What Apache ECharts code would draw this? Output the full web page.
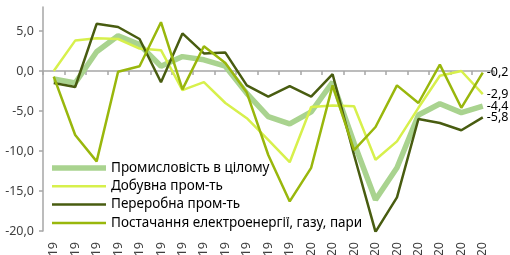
<!DOCTYPE html>
<html lang="uk">
<head>
<meta charset="UTF-8" />
<title>Промисловість</title>
<script src="https://cdn.jsdelivr.net/npm/echarts@6/dist/echarts.min.js"></script>
<style>
  html, body { margin: 0; padding: 0; background: #fff; }
  #chart { width: 510px; height: 255px; }
</style>
</head>
<body>
<div id="chart"></div>
<script>
// місяці: січ.2019 - вер.2020
var months = [
  "січ.19", "лют.19", "бер.19", "кві.19", "тра.19", "чер.19",
  "лип.19", "сер.19", "вер.19", "жов.19", "лис.19", "гру.19",
  "січ.20", "лют.20", "бер.20", "кві.20", "тра.20", "чер.20",
  "лип.20", "сер.20", "вер.20"
];
var names = [
  "Промисловість в цілому",
  "Добувна пром-ть",
  "Переробна пром-ть",
  "Постачання електроенергії, газу, пари"
];
var total    = [-1.0, -1.5, 2.4, 4.4, 3.3, 0.6, 1.8, 1.4, 0.6, -2.8, -5.7, -6.6, -5.1, -1.4, -9.0, -16.1, -12.1, -5.5, -4.1, -5.2, -4.4];
var mining   = [0.0, 3.8, 4.1, 4.0, 2.8, 2.6, -2.4, -1.4, -4.0, -5.9, -8.6, -11.4, -4.5, -4.3, -4.4, -11.1, -8.8, -4.6, -0.6, 0.0, -2.9];
var manuf    = [-1.5, -2.0, 5.9, 5.5, 4.0, -1.4, 4.7, 2.2, 2.3, -1.8, -3.2, -1.9, -3.2, -0.4, -10.5, -20.1, -15.8, -6.0, -6.5, -7.4, -5.8];
var energy   = [-0.7, -8.0, -11.3, -0.1, 0.6, 6.1, -2.3, 3.1, 1.0, -2.7, -10.5, -16.3, -12.1, -1.8, -9.9, -7.0, -1.8, -4.0, 0.8, -4.6, -0.2];
var yMin = -20, yMax = 8, yStep = 5;

var colors = ["#a9d38f", "#d7f04c", "#485c10", "#99b70c"];
var widths = [5.5, 2.5, 2.5, 2.5];
var data = [total, mining, manuf, energy];

function fmt(v) { return v.toFixed(1).replace(".", ","); }

var myChart = echarts.init(document.getElementById("chart"));
var font = "Noto Sans";

var series = names.map(function (n, i) {
  return {
    name: n,
    type: "line",
    data: data[i],
    xAxisIndex: 0,
    symbol: "none",
    lineStyle: { color: colors[i], width: widths[i] },
    itemStyle: { color: colors[i] },
    endLabel: {
      show: true,
      formatter: function (p) { return fmt(p.value); },
      color: "#000",
      fontSize: 12.5,
      fontFamily: font,
      distance: 4
    }
  };
});

// legend: plain line samples of the series' width
var legendData = names.map(function (n, i) {
  return {
    name: n,
    icon: "path://M0,0 L54,0 L54," + widths[i] + " L0," + widths[i] + " Z",
    itemStyle: { color: colors[i] }
  };
});

var option = {
  animation: false,
  grid: { left: 43, right: 16.5, top: 7, bottom: 24, containLabel: false, outerBoundsMode: "none" },
  legend: {
    orient: "vertical",
    left: 52,
    top: 161,
    itemWidth: 54,
    itemHeight: 14,
    itemGap: 4.3,
    padding: 0,
    textStyle: { fontSize: 13.5, color: "#000", fontFamily: font },
    data: legendData
  },
  xAxis: [
    {
      type: "category",
      data: months,
      position: "bottom",
      axisLine: { show: false, onZero: false },
      axisTick: { show: false },
      axisLabel: { rotate: 90, margin: 11, fontSize: 12.5, color: "#404040", fontFamily: font, interval: 0 }
    },
    {
      type: "category",
      data: months,
      position: "bottom",
      axisLine: { show: true, onZero: true, lineStyle: { color: "#a6a6a6", width: 1.5 } },
      axisTick: { show: true, length: 4, interval: 0, lineStyle: { color: "#a6a6a6", width: 1.5 } },
      axisLabel: { show: false }
    }
  ],
  yAxis: {
    type: "value",
    min: yMin,
    max: yMax,
    interval: yStep,
    splitLine: { show: false },
    axisLine: { show: true, lineStyle: { color: "#a6a6a6", width: 1.5 } },
    axisTick: { show: true, length: 4, lineStyle: { color: "#a6a6a6", width: 1.5 } },
    axisLabel: {
      showMaxLabel: false,
      margin: 9,
      fontSize: 12.5,
      color: "#404040",
      fontFamily: font,
      formatter: function (v) { return v === yMax ? "" : fmt(v); }
    }
  },
  series: series
};

myChart.setOption(option);
</script>
</body>
</html>
